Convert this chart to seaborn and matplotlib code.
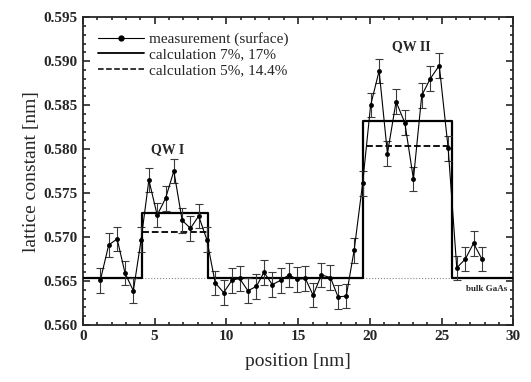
import numpy as np
import pandas as pd
import seaborn as sns
import matplotlib.pyplot as plt
from matplotlib.ticker import MultipleLocator, FormatStrFormatter

# measured lattice constant along the growth direction
position = [1.22, 1.80, 2.39, 2.94, 3.52, 4.06, 4.60, 5.18, 5.76, 6.34,
            6.92, 7.50, 8.07, 8.64, 9.22, 9.81, 10.39, 10.92, 11.50, 12.09,
            12.62, 13.20, 13.79, 14.36, 14.92, 15.50, 16.04, 16.62, 17.25, 17.78,
            18.35, 18.90, 19.49, 20.05, 20.64, 21.22, 21.82, 22.43, 23.03, 23.61,
            24.20, 24.83, 25.45, 26.05, 26.64, 27.22, 27.80]
lattice = [0.5651, 0.5691, 0.5698, 0.5659, 0.5639, 0.5697, 0.5765, 0.5725, 0.5744, 0.5775,
           0.5719, 0.5710, 0.5724, 0.5697, 0.5648, 0.5637, 0.5651, 0.5653, 0.5639, 0.5644,
           0.5660, 0.5646, 0.5651, 0.5657, 0.5652, 0.5653, 0.5634, 0.5657, 0.5654, 0.5632,
           0.5633, 0.5685, 0.5761, 0.5850, 0.5889, 0.5795, 0.5854, 0.5830, 0.5766, 0.5861,
           0.5880, 0.5895, 0.5801, 0.5665, 0.5675, 0.5693, 0.5675]
err = 0.0014

bulk = 0.56533
# step profiles of the calculations
calc_x = [0, 4.15, 4.15, 8.75, 8.75, 19.55, 19.55, 25.7, 25.7, 30]
calc1_y = [bulk, bulk, 0.5727, 0.5727, bulk, bulk, 0.5832, 0.5832, bulk, bulk]   # 7%, 17%
calc2_y = [bulk, bulk, 0.5706, 0.5706, bulk, bulk, 0.5804, 0.5804, bulk, bulk]   # 5%, 14.4%

meas = pd.DataFrame({'position': position, 'lattice': lattice})
c1 = pd.DataFrame({'x': calc_x, 'y': calc1_y})
c2 = pd.DataFrame({'x': calc_x, 'y': calc2_y})

sns.set_style("ticks")
plt.rcParams['font.family'] = ['Liberation Serif', 'DejaVu Serif']

fig = plt.figure(figsize=(5.31, 3.82), dpi=100)
ax = fig.add_axes([0.156, 0.149, 0.811, 0.806])

ax.plot([0, 30], [bulk, bulk], color='#888888', lw=0.8, ls=':', zorder=1)
sns.lineplot(data=c2, x='x', y='y', ax=ax, color='black', lw=1.3, ls='--',
             sort=False, estimator=None, zorder=2)
sns.lineplot(data=c1, x='x', y='y', ax=ax, color='black', lw=1.6,
             sort=False, estimator=None, zorder=3)
ax.errorbar(position, lattice, yerr=err, fmt='none', ecolor='#3a3a3a',
            elinewidth=0.8, capsize=3, capthick=0.8, zorder=4)
sns.lineplot(data=meas, x='position', y='lattice', ax=ax, color='black', lw=0.8,
             marker='o', markersize=3.5, markeredgewidth=0, sort=False,
             estimator=None, zorder=5)

h1, = ax.plot([], [], color='black', lw=0.8, marker='o', markersize=3.5)
h2, = ax.plot([], [], color='black', lw=1.3)
h3, = ax.plot([], [], color='black', lw=1.1, ls='--')
ax.legend([h1, h2, h3], ['measurement (surface)', 'calculation 7%, 17%',
                         'calculation 5%, 14.4%'],
          loc='upper left', frameon=False, fontsize=11, handlelength=3.0,
          borderaxespad=0.6, labelspacing=0.1, handletextpad=0.3)

ax.text(5.9, 0.5800, 'QW I', fontsize=10, fontweight='bold', ha='center', va='center')
ax.text(22.9, 0.5917, 'QW II', fontsize=10, fontweight='bold', ha='center', va='center')
ax.text(28.1, 0.5641, 'bulk GaAs', fontsize=6.5, fontweight='bold', ha='center',
        va='center', zorder=6)

ax.set_xlim(0, 30)
ax.set_ylim(0.560, 0.595)
ax.xaxis.set_major_locator(MultipleLocator(5))
ax.xaxis.set_minor_locator(MultipleLocator(1))
ax.yaxis.set_major_locator(MultipleLocator(0.005))
ax.yaxis.set_minor_locator(MultipleLocator(0.001))
ax.yaxis.set_major_formatter(FormatStrFormatter('%.3f'))
ax.tick_params(which='both', direction='in', top=True, right=True, width=1.2)
ax.tick_params(which='major', length=5, labelsize=11)
ax.tick_params(which='minor', length=2.5)
for lab in ax.get_xticklabels() + ax.get_yticklabels():
    lab.set_fontweight('bold')
for s in ax.spines.values():
    s.set_linewidth(1.3)

ax.set_xlabel('position [nm]', fontsize=14, labelpad=7)
ax.set_ylabel('lattice constant [nm]', fontsize=14, labelpad=3)

fig.savefig('out.png', dpi=100)
